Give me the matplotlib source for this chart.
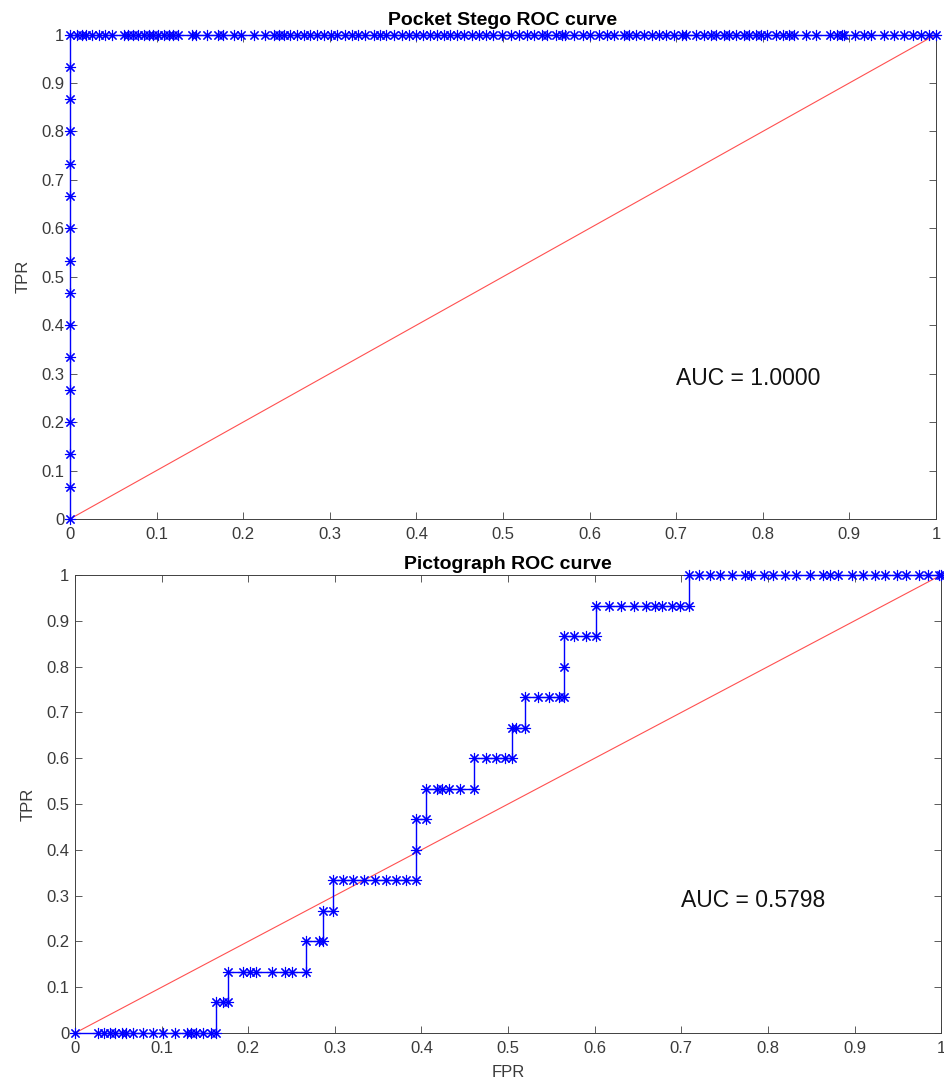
import numpy as np
import matplotlib.pyplot as plt

plt.rcParams['font.family'] = ['Liberation Sans', 'DejaVu Sans']

# Pocket Stego ROC: vertical climb at FPR = 0, then flat at TPR = 1
pocket_tpr_at_zero = [0, 0.0667, 0.1333, 0.2, 0.2667, 0.3333, 0.4, 0.4667, 0.5333,
                      0.6, 0.6667, 0.7333, 0.8, 0.8667, 0.9333, 1.0]
pocket_fpr_at_one = [0.008, 0.014, 0.019, 0.025, 0.033, 0.040, 0.048, 0.062, 0.067,
                     0.073, 0.079, 0.085, 0.091, 0.096, 0.102, 0.108, 0.114, 0.119,
                     0.125, 0.141, 0.146, 0.158, 0.171, 0.177, 0.189, 0.198, 0.212,
                     0.225, 0.235, 0.241, 0.247, 0.254, 0.262, 0.270, 0.277, 0.285,
                     0.293, 0.301, 0.308, 0.318, 0.326, 0.333, 0.341, 0.351, 0.358,
                     0.365, 0.374, 0.383, 0.391, 0.399, 0.408, 0.416, 0.424, 0.432,
                     0.439, 0.447, 0.455, 0.464, 0.472, 0.480, 0.488, 0.499, 0.509,
                     0.518, 0.528, 0.536, 0.545, 0.551, 0.561, 0.568, 0.572, 0.582,
                     0.592, 0.601, 0.611, 0.620, 0.628, 0.640, 0.645, 0.653, 0.663,
                     0.672, 0.680, 0.688, 0.697, 0.707, 0.711, 0.723, 0.732, 0.740,
                     0.746, 0.755, 0.761, 0.769, 0.778, 0.784, 0.792, 0.798, 0.805,
                     0.815, 0.823, 0.830, 0.836, 0.850, 0.861, 0.877, 0.886, 0.892,
                     0.894, 0.906, 0.917, 0.925, 0.940, 0.952, 0.963, 0.973, 0.983,
                     0.992, 1.0]
pocket_auc = "AUC = 1.0000"

# Pictograph ROC points (FPR, TPR)
picto_fpr = [0, 0.027, 0.033, 0.040, 0.046, 0.054, 0.059, 0.067, 0.078, 0.090, 0.101,
             0.115, 0.129, 0.134, 0.140, 0.148, 0.157, 0.163,
             0.163, 0.171, 0.177,
             0.177, 0.194, 0.202, 0.209, 0.227, 0.242, 0.251, 0.267,
             0.267, 0.282, 0.286,
             0.286, 0.298,
             0.298, 0.309, 0.321, 0.334, 0.346, 0.359, 0.371, 0.382, 0.394,
             0.394,
             0.394, 0.405,
             0.405, 0.418, 0.424, 0.432, 0.444, 0.461,
             0.461, 0.474, 0.486, 0.497, 0.505,
             0.505, 0.509, 0.520,
             0.520, 0.534, 0.547, 0.559, 0.565,
             0.565,
             0.565, 0.576, 0.590, 0.601,
             0.601, 0.616, 0.630, 0.645, 0.659, 0.670, 0.678, 0.689, 0.699, 0.709,
             0.709, 0.720, 0.733, 0.745, 0.758, 0.774, 0.780, 0.795, 0.806, 0.820,
             0.833, 0.849, 0.864, 0.872, 0.881, 0.897, 0.910, 0.924, 0.935, 0.949,
             0.960, 0.974, 0.985, 0.997, 1.0]
picto_tpr = [0] * 18 + \
            [0.0667] * 3 + \
            [0.1333] * 8 + \
            [0.2] * 3 + \
            [0.2667] * 2 + \
            [0.3333] * 9 + \
            [0.4] * 1 + \
            [0.4667] * 2 + \
            [0.5333] * 6 + \
            [0.6] * 5 + \
            [0.6667] * 3 + \
            [0.7333] * 5 + \
            [0.8] * 1 + \
            [0.8667] * 4 + \
            [0.9333] * 10 + \
            [1.0] * 25
picto_auc = "AUC = 0.5798"

tick_vals = [0, 0.1, 0.2, 0.3, 0.4, 0.5, 0.6, 0.7, 0.8, 0.9, 1]
tick_labels = ['0', '0.1', '0.2', '0.3', '0.4', '0.5', '0.6', '0.7', '0.8', '0.9', '1']

star = (8, 2, 0)  # matlab-like asterisk


def style_axes(ax):
    ax.set_xlim(0, 1)
    ax.set_ylim(0, 1)
    ax.set_xticks(tick_vals)
    ax.set_xticklabels(tick_labels)
    ax.set_yticks(tick_vals)
    ax.set_yticklabels(tick_labels)
    ax.tick_params(direction='in', top=True, right=True, length=5, width=0.6,
                   color='0.25', labelcolor='#3a3a3a', labelsize=12)
    ax.tick_params(axis='x', pad=6)
    ax.tick_params(axis='y', pad=4)
    for s in ax.spines.values():
        s.set_color('0.25')
        s.set_linewidth(0.7)


fig = plt.figure(figsize=(9.45, 10.85), dpi=100)

# top panel
ax1 = fig.add_axes([0.0741, 0.5217, 0.9164, 0.4465])
fpr1 = [0] * len(pocket_tpr_at_zero) + pocket_fpr_at_one
tpr1 = pocket_tpr_at_zero + [1.0] * len(pocket_fpr_at_one)
ax1.plot([0, 1], [0, 1], color='#ff5050', lw=0.8, zorder=2)
ax1.plot(fpr1, tpr1, color='blue', lw=1.0, marker=star, ms=8, mew=0.8,
         clip_on=False, zorder=3)
ax1.text(0.70, 0.29, pocket_auc, fontsize=16.5, color='#111111', va='center', ha='left')
ax1.set_title('Pocket Stego ROC curve', fontsize=14, fontweight='bold', pad=7)
ax1.set_ylabel('TPR', fontsize=12, color='#3a3a3a', labelpad=8)
style_axes(ax1)

# bottom panel
ax2 = fig.add_axes([0.0794, 0.0479, 0.9165, 0.4221])
ax2.plot([0, 1], [0, 1], color='#ff5050', lw=0.8, zorder=2)
ax2.plot(picto_fpr, picto_tpr, color='blue', lw=1.0, marker=star, ms=8, mew=0.8,
         clip_on=False, zorder=3)
ax2.text(0.70, 0.29, picto_auc, fontsize=16.5, color='#111111', va='center', ha='left')
ax2.set_title('Pictograph ROC curve', fontsize=14, fontweight='bold', pad=4)
ax2.set_ylabel('TPR', fontsize=12, color='#3a3a3a', labelpad=8)
ax2.set_xlabel('FPR', fontsize=12, color='#3a3a3a', labelpad=6)
style_axes(ax2)

fig.savefig('out.png', dpi=100)
